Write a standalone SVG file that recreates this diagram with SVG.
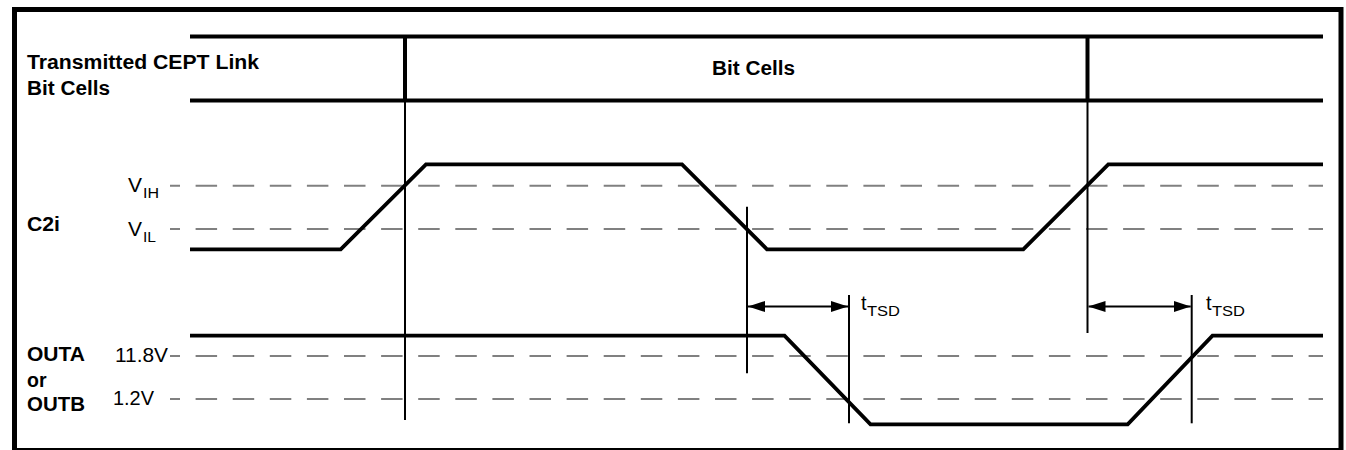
<svg xmlns="http://www.w3.org/2000/svg" width="1346" height="450" viewBox="0 0 1346 450">
<style>
.lbl{font-family:"Liberation Sans",Arial,sans-serif;font-size:20px;fill:#000}
.b{font-weight:bold;font-size:19.5px}
.sub{font-family:"Liberation Sans",Arial,sans-serif;font-size:15px;fill:#000}
.thick{stroke:#000;stroke-width:4;fill:none}
.sig{stroke:#000;stroke-width:3.8;fill:none;stroke-linejoin:miter}
.thin{stroke:#000;stroke-width:2;fill:none}
.dash{stroke:#808080;stroke-width:2;fill:none;stroke-dasharray:21.5 15.6;stroke-dashoffset:11.5}
</style>
<defs>
<marker id="ah" viewBox="0 0 17 11" refX="17" refY="5.5" markerWidth="17" markerHeight="11" markerUnits="userSpaceOnUse" orient="auto-start-reverse">
<path d="M0,0 L17,5.5 L0,11 Z" fill="#000"/>
</marker>
</defs>
<rect width="1346" height="450" fill="#fff"/>
<g id="frame">
<rect x="14.5" y="9.5" width="1326.5" height="441" fill="none" stroke="#000" stroke-width="5"/>
</g>
<g id="header">
<line class="thick" x1="190" y1="36.5" x2="1323" y2="36.5"/>
<line class="thick" x1="190" y1="100.5" x2="1323" y2="100.5"/>
<line class="thick" x1="405" y1="36.5" x2="405" y2="100.5"/>
<line class="thick" x1="1087.5" y1="36.5" x2="1087.5" y2="100.5"/>
<text class="lbl b" x="712" y="75" textLength="83" lengthAdjust="spacingAndGlyphs">Bit Cells</text>
</g>
<g id="labels">
<text class="lbl b" x="27" y="68.5" textLength="232" lengthAdjust="spacingAndGlyphs">Transmitted CEPT Link</text>
<text class="lbl b" x="27" y="94.5" textLength="83" lengthAdjust="spacingAndGlyphs">Bit Cells</text>
<text class="lbl b" x="27" y="230.5" textLength="33" lengthAdjust="spacingAndGlyphs">C2i</text>
<text class="lbl b" x="27" y="360.5" textLength="58" lengthAdjust="spacingAndGlyphs">OUTA</text>
<text class="lbl b" x="27" y="386.5">or</text>
<text class="lbl b" x="27" y="411" textLength="58" lengthAdjust="spacingAndGlyphs">OUTB</text>
</g>
<g id="thresholds">
<text class="lbl" x="128" y="191.5" textLength="14" lengthAdjust="spacingAndGlyphs">V</text>
<text class="sub" x="143" y="198" textLength="16" lengthAdjust="spacingAndGlyphs">IH</text>
<text class="lbl" x="128" y="235.5" textLength="14" lengthAdjust="spacingAndGlyphs">V</text>
<text class="sub" x="143" y="242" textLength="13" lengthAdjust="spacingAndGlyphs">IL</text>
<text class="lbl" x="115" y="362" textLength="53" lengthAdjust="spacingAndGlyphs">11.8V</text>
<text class="lbl" x="113" y="405" textLength="41" lengthAdjust="spacingAndGlyphs">1.2V</text>
<line class="dash" x1="170" y1="185.7" x2="1323" y2="185.7"/>
<line class="dash" x1="170" y1="229" x2="1323" y2="229"/>
<line class="dash" x1="170" y1="356" x2="1323" y2="356"/>
<line class="dash" x1="170" y1="399" x2="1323" y2="399"/>
</g>
<g id="c2i-signal">
<polyline class="sig" points="190,249.3 340.7,249.3 426,164.3 682,164.3 767,249.3 1023.3,249.3 1108.3,164.3 1323,164.3"/>
</g>
<g id="out-signal">
<polyline class="sig" points="190,335.7 784.5,335.7 870.5,424.3 1127.7,424.3 1212.5,335.7 1323,335.7"/>
</g>
<g id="markers">
<line class="thin" x1="405" y1="100" x2="405" y2="420"/>
<line class="thin" x1="1087.5" y1="100" x2="1087.5" y2="333"/>
<line class="thin" x1="747" y1="206.7" x2="747" y2="373.3"/>
<line class="thin" x1="849" y1="295" x2="849" y2="423.3"/>
<line class="thin" x1="1191.7" y1="295" x2="1191.7" y2="423.3"/>
</g>
<g id="connectors">
<line class="thin" x1="748" y1="306.5" x2="848" y2="306.5" marker-start="url(#ah)" marker-end="url(#ah)"/>
<line class="thin" x1="1088.5" y1="306.5" x2="1190.7" y2="306.5" marker-start="url(#ah)" marker-end="url(#ah)"/>
</g>
<g id="tsd-labels">
<text class="lbl" x="861" y="310">t</text>
<text class="sub" x="867" y="315.5" textLength="33" lengthAdjust="spacingAndGlyphs">TSD</text>
<text class="lbl" x="1206" y="310">t</text>
<text class="sub" x="1212" y="315.5" textLength="33" lengthAdjust="spacingAndGlyphs">TSD</text>
</g>
</svg>
